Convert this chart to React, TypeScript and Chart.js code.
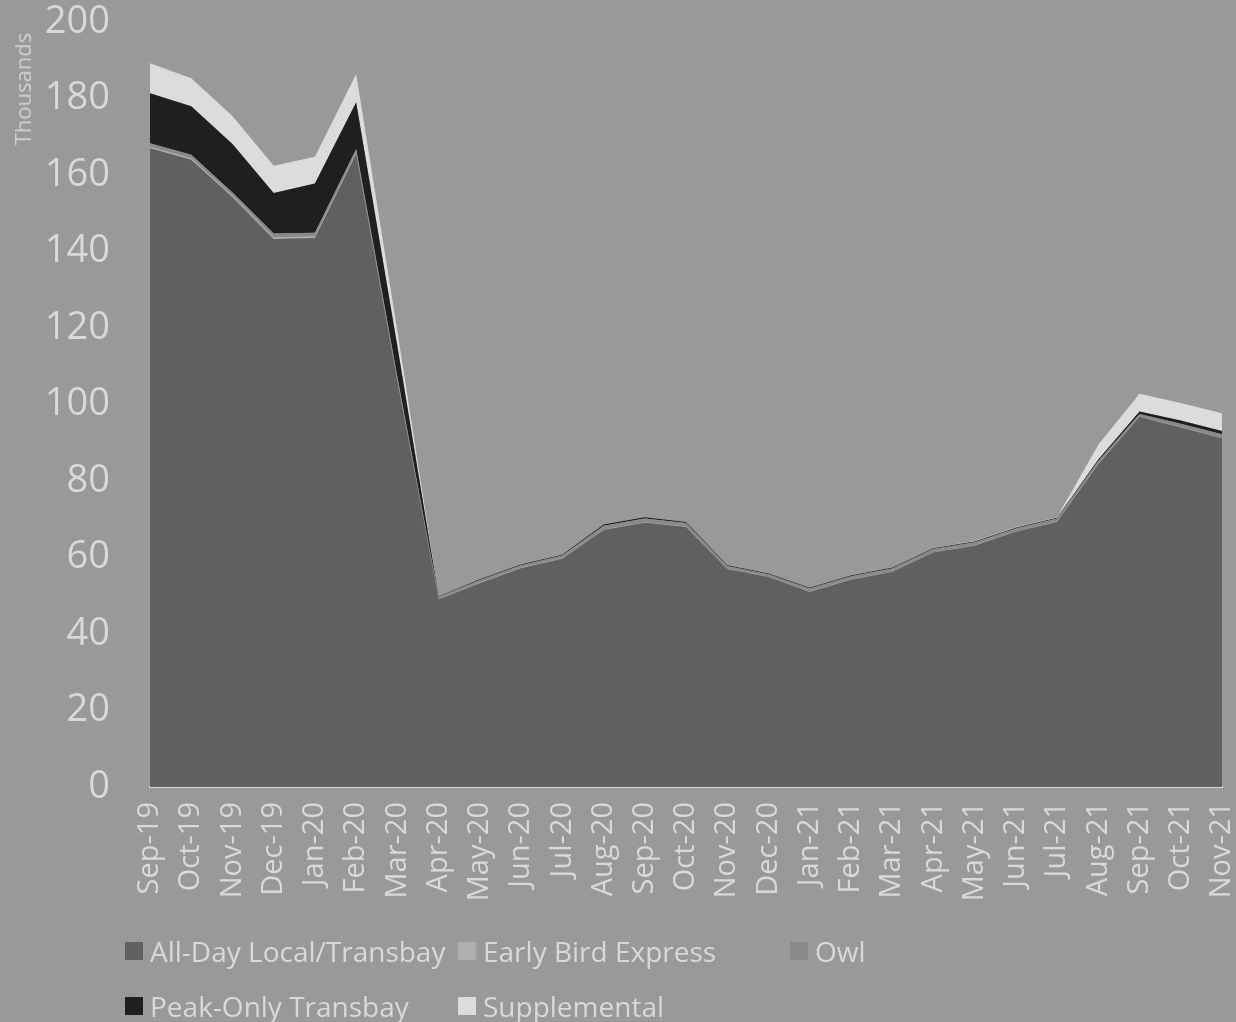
import React, { useEffect, useRef } from "react";
import { Chart, registerables } from "chart.js";

Chart.register(...registerables);

const months = [
  "Sep-19", "Oct-19", "Nov-19", "Dec-19", "Jan-20", "Feb-20", "Mar-20", "Apr-20", "May-20",
  "Jun-20", "Jul-20", "Aug-20", "Sep-20", "Oct-20", "Nov-20", "Dec-20", "Jan-21", "Feb-21",
  "Mar-21", "Apr-21", "May-21", "Jun-21", "Jul-21", "Aug-21", "Sep-21", "Oct-21", "Nov-21",
];

const allDayLocalTransbay = [
  167, 164, 154.2, 143.3, 143.5, 165.5, 106, 49, 53.3,
  57.2, 59.7, 67.2, 69.1, 68, 56.9, 54.9, 51, 54.2,
  56.2, 61.3, 63.1, 66.7, 69.3, 84.3, 96.7, 94, 91.1,
];
const earlyBirdExpress = [
  0.4, 0.4, 0.4, 0.4, 0.4, 0.4, 0.3, 0.1, 0.1,
  0.1, 0.1, 0.1, 0.1, 0.1, 0.1, 0.1, 0.1, 0.1,
  0.1, 0.1, 0.1, 0.1, 0.1, 0.1, 0.1, 0.1, 0.1,
];
const owl = [
  0.9, 0.9, 0.8, 1.0, 1.0, 0.9, 0.9, 0.6, 0.7,
  0.7, 0.7, 1.0, 1.0, 0.9, 0.8, 0.6, 0.8, 0.8,
  0.8, 0.8, 0.8, 0.8, 0.8, 0.8, 0.7, 0.9, 1.0,
];
const peakOnlyTransbay = [
  13.1, 12.7, 12.7, 10.6, 12.9, 12.2, 8, 0.1, 0.2,
  0.2, 0.2, 0.3, 0.3, 0.3, 0.2, 0.2, 0.2, 0.2,
  0.2, 0.2, 0.2, 0.2, 0.2, 0.4, 0.7, 0.8, 0.9,
];
const supplemental = [
  7.8, 7.3, 7.3, 7.1, 7.0, 7.4, 4, 0, 0,
  0, 0, 0, 0, 0, 0, 0, 0, 0,
  0, 0.1, 0.1, 0.1, 0.1, 3.9, 4.6, 4.6, 4.6,
];

const seriesNames = [
  "All-Day Local/Transbay",
  "Early Bird Express",
  "Owl",
  "Peak-Only Transbay",
  "Supplemental",
];
const seriesColors = ["#606060", "#afafaf", "#8a8a8a", "#1f1f1f", "#dcdcdc"];
const seriesValues = [allDayLocalTransbay, earlyBirdExpress, owl, peakOnlyTransbay, supplemental];

const yTicks = [0, 20, 40, 60, 80, 100, 120, 140, 160, 180, 200];

const BG = "#999999";
const TEXT = "#d9d9d9";
const FONT = "'Open Sans', 'DejaVu Sans', sans-serif";

const legendCols = [125, 458, 790];
const legendRows = [951, 1006];

const zeroPad = (scale: any) => {
  scale.paddingTop = 0;
  scale.paddingBottom = 0;
  scale.paddingLeft = 0;
  scale.paddingRight = 0;
};

export default function App() {
  const ref = useRef<HTMLCanvasElement>(null);

  useEffect(() => {
    document.body.style.margin = "0";
    document.body.style.background = BG;
    const chart = new Chart(ref.current!, {
      type: "line",
      data: {
        labels: months,
        datasets: seriesNames.map((name, i) => ({
          label: name,
          data: seriesValues[i],
          backgroundColor: seriesColors[i],
          borderColor: seriesColors[i],
          borderWidth: 0,
          pointRadius: 0,
          fill: i === 0 ? "origin" : "-1",
          tension: 0,
        })),
      },
      options: {
        animation: false,
        responsive: false,
        devicePixelRatio: 1,
        layout: { padding: { top: 22, right: 14, left: 0, bottom: 0 } },
        plugins: { legend: { display: false }, tooltip: { enabled: false } },
        scales: {
          x: {
            offset: false,
            grid: { display: false, drawTicks: false },
            border: { display: true, color: "#d9d9d9", width: 2 },
            ticks: {
              color: TEXT,
              font: { family: FONT, size: 29, lineHeight: 1 },
              minRotation: 90,
              maxRotation: 90,
              autoSkip: false,
              padding: 15,
            },
            afterFit: (scale: any) => {
              scale.height = 235;
              zeroPad(scale);
            },
          },
          y: {
            stacked: true,
            min: 0,
            max: 200,
            afterBuildTicks: (scale: any) => {
              scale.ticks = yTicks.map((v) => ({ value: v }));
            },
            grid: { display: false, drawTicks: false },
            border: { display: false },
            ticks: {
              color: TEXT,
              font: { family: FONT, size: 38 },
              padding: 40,
            },
            afterFit: (scale: any) => {
              scale.width = 150;
              zeroPad(scale);
            },
          },
        },
      },
    });
    return () => chart.destroy();
  }, []);

  const legendItems = seriesNames.map((name, i) => ({
    name,
    color: seriesColors[i],
    left: legendCols[i < 3 ? i : i - 3],
    top: legendRows[i < 3 ? 0 : 1],
  }));

  return (
    <div
      style={{
        position: "relative",
        width: 1236,
        height: 1022,
        background: BG,
        overflow: "hidden",
        fontFamily: FONT,
      }}
    >
      <canvas ref={ref} width={1236} height={1022} style={{ display: "block" }} />
      <div
        style={{
          position: "absolute",
          left: 22,
          top: 89,
          transform: "translate(-50%, -50%) rotate(-90deg)",
          whiteSpace: "nowrap",
          fontSize: 22,
          color: "#d0d0d0",
          lineHeight: 1,
        }}
      >
        Thousands
      </div>
      {legendItems.map((it) => (
        <div
          key={it.name}
          style={{
            position: "absolute",
            left: it.left,
            top: it.top,
            transform: "translateY(-50%)",
            display: "flex",
            alignItems: "center",
            whiteSpace: "nowrap",
          }}
        >
          <span
            style={{
              display: "inline-block",
              width: 18,
              height: 18,
              background: it.color,
              marginRight: 7,
            }}
          />
          <span style={{ fontSize: 28, color: TEXT, lineHeight: 1 }}>{it.name}</span>
        </div>
      ))}
    </div>
  );
}
